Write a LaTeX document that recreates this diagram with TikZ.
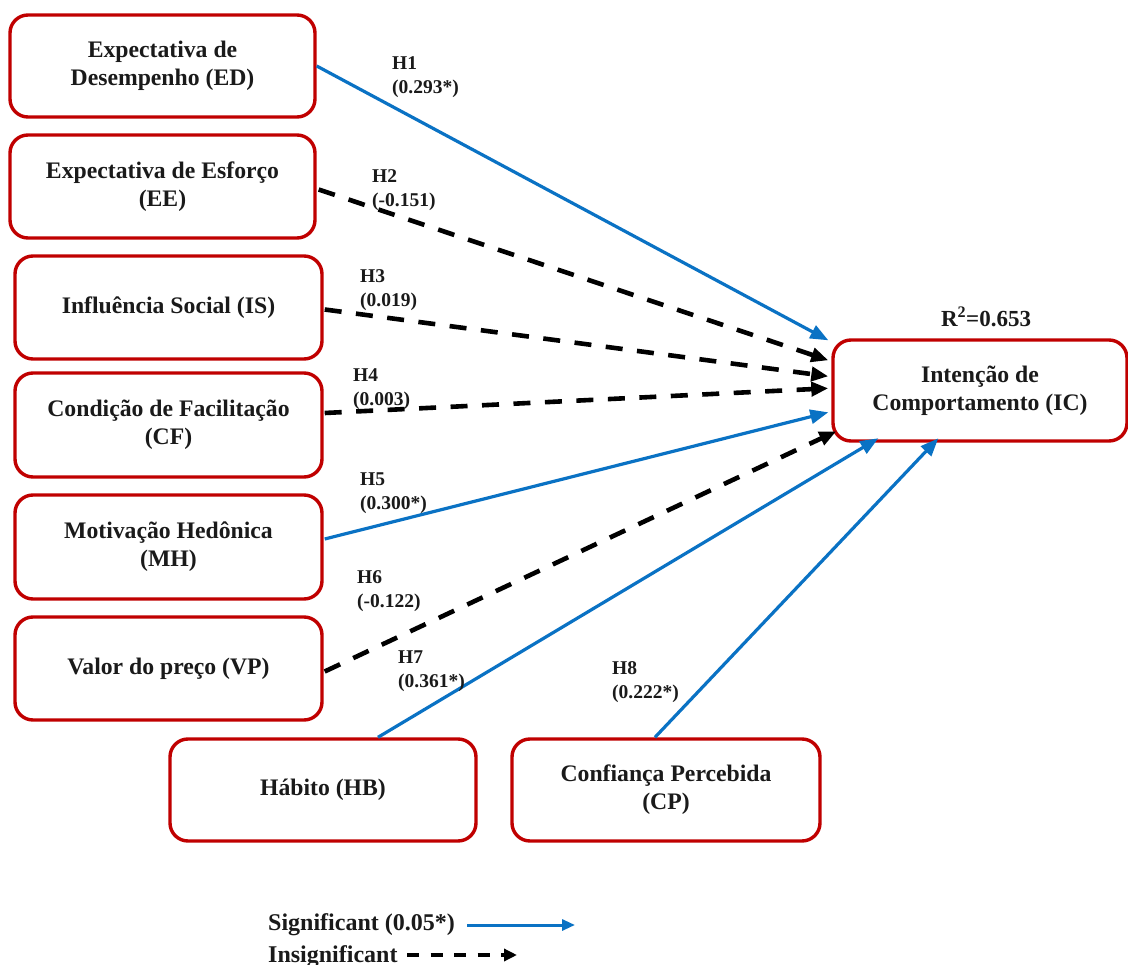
\documentclass[tikz,border=0pt]{standalone}
\usepackage{fontspec}
\setmainfont{Liberation Serif}
\usetikzlibrary{arrows.meta,calc}
\definecolor{boxred}{HTML}{C00000}
\definecolor{sigblue}{HTML}{0A72C4}
\definecolor{txt}{HTML}{1A1A1A}
\begin{document}
\begin{tikzpicture}[x=1pt,y=-1pt,
  box/.style={draw=boxred, line width=3.4pt, rounded corners=18pt, align=center, inner sep=0pt,
    font=\fontsize{23.7}{28}\selectfont\bfseries, text=txt},
  sigarrow/.style={draw=sigblue, line width=3.2pt, -{Triangle[length=18pt,width=14pt]}},
  insigarrow/.style={draw=black, line width=4.6pt, dash pattern=on 17pt off 14.5pt, -{Triangle[length=17pt,width=14pt]}},
  hyp/.style={anchor=base west, align=left, inner sep=0pt, font=\fontsize{19.5}{24}\selectfont\bfseries, text=txt},
  legend/.style={anchor=base west, inner sep=0pt, font=\fontsize{24}{28}\selectfont\bfseries, text=txt},
]
\fill[white] (0,0) rectangle (1128,965);
\useasboundingbox (0,0) rectangle (1128,965);

% boxes
\node[box, minimum width=305pt, minimum height=102pt] (ED) at (162.5,66) {Expectativa de\\Desempenho (ED)};
\node[box, minimum width=305pt, minimum height=103pt] (EE) at (162.5,186.5) {Expectativa de Esforço\\(EE)};
\node[box, minimum width=307pt, minimum height=103pt] (IS) at (168.5,307.5) {Influência Social (IS)};
\node[box, minimum width=307pt, minimum height=104pt] (CF) at (168.5,425) {Condição de Facilitação\\(CF)};
\node[box, minimum width=307pt, minimum height=104pt] (MH) at (168.5,547) {Motivação Hedônica\\(MH)};
\node[box, minimum width=307pt, minimum height=103pt] (VP) at (168.5,668.5) {Valor do preço (VP)};
\node[box, minimum width=306pt, minimum height=102pt] (HB) at (323,790) {Hábito (HB)};
\node[box, minimum width=308pt, minimum height=102pt] (CP) at (666,790) {Confiança Percebida\\(CP)};
\node[box, minimum width=294pt, minimum height=101pt] (IC) at (980,390.5) {Intenção de\\Comportamento (IC)};

\node[anchor=base, inner sep=0pt, font=\fontsize{23}{27}\selectfont\bfseries, text=txt] (R2) at (986,327) {R\textsuperscript{2}=0.653};

% target points on IC
\coordinate (t1) at ($(IC.north west)+(-3,2)$);
\coordinate (t2) at ($(IC.north west)+(-3,22)$);
\coordinate (t3) at ($(IC.north west)+(-3,38)$);
\coordinate (t4) at ($(IC.north west)+(-3,50)$);
\coordinate (t5) at ($(IC.north west)+(-3,74)$);
\coordinate (t6) at ($(IC.north west)+(5,93)$);
\coordinate (t7) at ($(IC.north west)+(47,100)$);
\coordinate (t8) at ($(IC.north west)+(107,100)$);

% connectors
\draw[sigarrow] (ED.east) -- (t1);
\draw[insigarrow] ($(EE.east)+(2,3)$) -- (t2);
\draw[insigarrow] ($(IS.east)+(1,2)$) -- (t3);
\draw[insigarrow] ($(CF.east)+(1,-12)$) -- (t4);
\draw[sigarrow] ($(MH.east)+(1,-8)$) -- (t5);
\draw[insigarrow] ($(VP.east)+(1,3)$) -- (t6);
\draw[sigarrow] ($(HB.north)+(55,0)$) -- (t7);
\draw[sigarrow] ($(CP.north)+(-11,0)$) -- (t8);

% hypothesis labels (anchor = baseline of the second line)
\node[hyp] (h1) at (392,94) {H1\\(0.293*)};
\node[hyp] (h2) at (372,207) {H2\\(-0.151)};
\node[hyp] (h3) at (360,307) {H3\\(0.019)};
\node[hyp] (h4) at (353,406) {H4\\(0.003)};
\node[hyp] (h5) at (360,510) {H5\\(0.300*)};
\node[hyp] (h6) at (357,607) {H6\\(-0.122)};
\node[hyp] (h7) at (398,687) {H7\\(0.361*)};
\node[hyp] (h8) at (612,698) {H8\\(0.222*)};

% legend
\node[legend] (lsig) at (268,930) {Significant (0.05*)};
\node[legend] (lins) at (268,962) {Insignificant};
\coordinate (ls1) at (467,925);
\coordinate (ls2) at (575,925);
\coordinate (li1) at (407,955);
\coordinate (li2) at (517,955);
\draw[draw=sigblue, line width=3pt, -{Triangle[length=13pt,width=11pt]}] (ls1) -- (ls2);
\draw[draw=black, line width=4.4pt, dash pattern=on 12pt off 11.5pt, -{Triangle[length=13pt,width=12pt]}] (li1) -- (li2);
\end{tikzpicture}
\end{document}
